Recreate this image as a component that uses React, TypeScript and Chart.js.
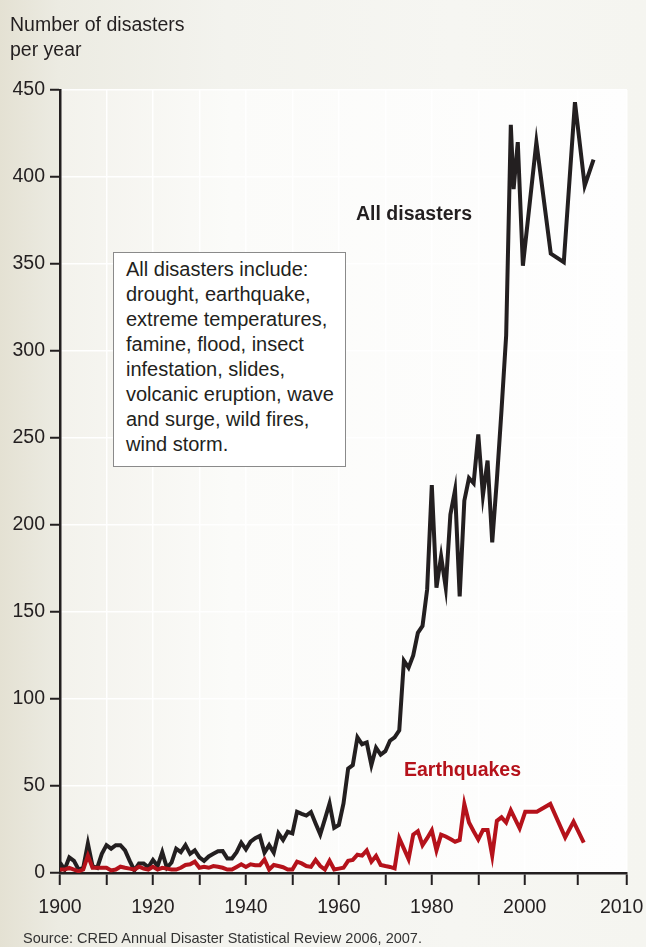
import React, { useEffect, useRef } from "react";
import { Chart, registerables } from "chart.js";

Chart.register(...registerables);

// ---------- data ----------
const annualYears = Array.from({ length: 98 }, (_, i) => 1900 + i); // 1900..1997

const allDisastersAnnual = [
  6, 2, 9, 7, 2, 3, 17, 4, 3, 11,
  16, 14, 16, 16, 13, 7, 1.5, 5.5, 5.5, 3.3,
  7.5, 4, 12, 3, 6, 14, 12, 16, 11, 13,
  9, 7, 9.5, 11, 12.5, 12.6, 8.4, 8.4, 12, 17.4,
  13.6, 18, 20, 21.3, 11.7, 16, 11.7, 22.8, 19, 23.7,
  22.8, 35.2, 34, 33, 35, 28.5, 22.2, 31, 40, 26,
  27.6, 40, 60, 62, 78, 74, 75, 62, 72, 68,
  70, 76, 78, 82, 122, 118, 125, 138, 142, 163,
  223, 164, 182, 164, 206, 220, 159, 214, 227, 224,
  252, 217, 237, 190, 226, 266, 309, 430,
];
const allDisastersLateYears = [1997.6, 1998.5, 1999.6, 2002.5, 2005.6, 2008.4, 2010.8, 2012.9, 2014.8];
const allDisastersLate = [393, 420, 349, 420, 356, 351, 443, 395, 410];

const earthquakesAnnual = [
  2, 2, 3, 2, 1, 2, 10, 3, 3, 3,
  3, 1.5, 2, 3.6, 3, 2.5, 2, 3.6, 2.5, 2,
  3.6, 2, 3, 2.5, 2, 2, 3, 4.6, 5, 6.5,
  3, 3.6, 3, 4, 3.6, 3, 2, 2, 3.5, 5,
  3.5, 5, 4.5, 4.5, 7.8, 2, 4.6, 4, 3.3, 2,
  2, 6.5, 5.5, 4, 3.5, 7.5, 4, 2, 7, 2,
  2.5, 3, 7, 7.5, 10.5, 10, 13, 6.5, 9.8, 4.6,
  4, 3.5, 2.7, 20, 14, 8, 22, 24, 16, 20,
  24.5, 13, 22, 21, 19.5, 18, 19, 39.7, 29, 24,
  19.3, 24.7, 24.7, 10, 30, 32, 29, 36,
];
const earthquakesLateYears = [1998.9, 2000.1, 2002.6, 2005.5, 2008.7, 2010.5, 2012.7];
const earthquakesLate = [25.7, 35.2, 35.2, 39.7, 20.5, 29.5, 17.4];

const xTickValues = [1900, 1910, 1920, 1930, 1940, 1950, 1960, 1970, 1980, 1990, 2000, 2011.3, 2022];
const xTickLabels = ["1900", "", "1920", "", "1940", "", "1960", "", "1980", "", "2000", "", "2010  "];

const yAxisTitle = ["Number of disasters", "per year"];
const boxLines = [
  "All disasters include:",
  "drought, earthquake,",
  "extreme temperatures,",
  "famine, flood, insect",
  "infestation, slides,",
  "volcanic eruption, wave",
  "and surge, wild fires,",
  "wind storm.",
];
const seriesLabelAll = "All disasters";
const seriesLabelEq = "Earthquakes";
const sourceText = "Source: CRED Annual Disaster Statistical Review 2006, 2007.";

// ---------- styles ----------
const INK = "#231f20";
const RED = "#b5121b";
const FONT = '"Liberation Sans", Arial, Helvetica, sans-serif';

const toPoints = (xs: number[], ys: number[]) => xs.map((x, i) => ({ x, y: ys[i] }));

const plotBg = {
  id: "plotBg",
  beforeDraw(chart: any) {
    const { ctx, chartArea: a } = chart;
    const g = ctx.createLinearGradient(a.left, 0, a.right, 0);
    g.addColorStop(0, "#f3f2ec");
    g.addColorStop(0.3, "#fbfbf9");
    g.addColorStop(1, "#fefefe");
    ctx.save();
    ctx.fillStyle = g;
    ctx.fillRect(a.left, a.top, a.right - a.left, a.bottom - a.top);
    ctx.restore();
  },
};

export default function App() {
  const canvasRef = useRef<HTMLCanvasElement | null>(null);

  useEffect(() => {
    document.body.style.margin = "0";
    const canvas = canvasRef.current;
    if (!canvas) return;
    Chart.defaults.font.family = FONT;

    const allData = [
      ...toPoints(annualYears, allDisastersAnnual),
      ...toPoints(allDisastersLateYears, allDisastersLate),
    ];
    const eqData = [
      ...toPoints(annualYears, earthquakesAnnual),
      ...toPoints(earthquakesLateYears, earthquakesLate),
    ];

    const gridCommon = {
      color: "rgba(255,255,255,0.95)",
      lineWidth: 1.5,
      tickColor: INK,
      tickWidth: 2,
      drawOnChartArea: true,
    };

    const chart = new Chart(canvas, {
      type: "line",
      data: {
        datasets: [
          {
            label: seriesLabelEq,
            data: eqData,
            borderColor: RED,
            borderWidth: 4,
            pointRadius: 0,
            tension: 0,
          },
          {
            label: seriesLabelAll,
            data: allData,
            borderColor: INK,
            borderWidth: 4,
            pointRadius: 0,
            tension: 0,
          },
        ],
      },
      options: {
        responsive: false,
        maintainAspectRatio: false,
        animation: false,
        events: [],
        layout: { padding: { top: 90, right: 19, left: 0, bottom: 0 } },
        plugins: { legend: { display: false }, tooltip: { enabled: false } },
        scales: {
          x: {
            type: "linear",
            min: 1900,
            max: 2022,
            afterBuildTicks: (scale: any) => {
              scale.ticks = xTickValues.map((v) => ({ value: v }));
            },
            afterFit: (scale: any) => {
              scale.height = 74;
              scale.paddingLeft = 0;
              scale.paddingRight = 0;
            },
            ticks: {
              autoSkip: false,
              maxRotation: 0,
              minRotation: 0,
              padding: 11,
              color: INK,
              font: { size: 19.5, family: FONT },
              callback: (_v: any, i: number) => xTickLabels[i],
            },
            grid: { ...gridCommon, tickLength: 12 },
            border: { display: true, color: INK, width: 2.5 },
          },
          y: {
            min: 0,
            max: 450,
            afterFit: (scale: any) => {
              scale.width = 60;
            },
            ticks: {
              stepSize: 50,
              padding: 5,
              color: INK,
              font: { size: 19.5, family: FONT },
            },
            grid: { ...gridCommon, tickLength: 10 },
            border: { display: true, color: INK, width: 2.5 },
          },
        },
      } as any,
      plugins: [plotBg],
    });

    return () => chart.destroy();
  }, []);

  const text: React.CSSProperties = {
    position: "absolute",
    fontFamily: FONT,
    color: INK,
    whiteSpace: "nowrap",
  };

  return (
    <div
      style={{
        position: "absolute",
        left: 0,
        top: 0,
        width: 646,
        height: 947,
        overflow: "hidden",
        background:
          "linear-gradient(to right, #e4e1d3 0%, #ecebe2 9%, #f3f3ee 35%, #f6f6f2 70%, #f5f5f0 100%)",
      }}
    >
      <canvas
        ref={canvasRef}
        width={646}
        height={947}
        style={{ position: "absolute", left: 0, top: 0, width: 646, height: 947 }}
      />
      <div style={{ ...text, left: 10, top: 12, fontSize: 19.5, lineHeight: "25px" }}>
        {yAxisTitle.map((l) => (
          <div key={l}>{l}</div>
        ))}
      </div>
      <div
        style={{
          ...text,
          left: 113,
          top: 252,
          width: 233,
          height: 215,
          boxSizing: "border-box",
          border: "1px solid #8a8a8a",
          background: "#ffffff",
          padding: "4px 0 0 12px",
          fontSize: 20,
          lineHeight: "25px",
        }}
      >
        {boxLines.map((l) => (
          <div key={l}>{l}</div>
        ))}
      </div>
      <div style={{ ...text, left: 356, top: 201, fontSize: 19.5, lineHeight: "24px", fontWeight: "bold" }}>
        {seriesLabelAll}
      </div>
      <div
        style={{ ...text, left: 404, top: 757, fontSize: 19.5, lineHeight: "24px", fontWeight: "bold", color: RED }}
      >
        {seriesLabelEq}
      </div>
      <div style={{ ...text, left: 23, top: 930, fontSize: 14.5, lineHeight: "17px", color: "#333333" }}>
        {sourceText}
      </div>
    </div>
  );
}
